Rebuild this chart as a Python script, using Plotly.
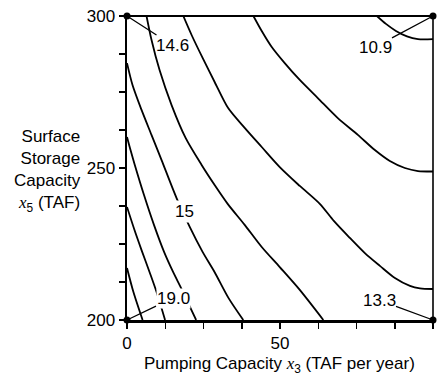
import plotly.graph_objects as go

# ---- data ----
x_tick_vals = [0, 12.5, 25, 37.5, 50, 62.5, 75, 87.5, 100]
x_tick_text = ["0", "", "", "", "50", "", "", "", "100"]
y_tick_vals = [200, 212.5, 225, 237.5, 250, 262.5, 275, 287.5, 300]
y_tick_text = ["200", "", "", "", "250", "", "", "", "300"]

corner_x = [0, 100, 0, 100]
corner_y = [300, 300, 200, 200]
corner_values = ["14.6", "10.9", "19.0", "13.3"]

c1_x = [0, 2.1, 5.1]
c1_y = [217.1, 209.2, 200]

c2_x = [0, 2.45, 4.75, 7.36, 9.66, 12.44]
c2_y = [237.2, 229.6, 223.0, 215.8, 209.2, 200]

c3_x = [0, 1.15, 2.55, 5.56, 8.84, 12.11, 15.06, 17.68, 20.3, 22.59]
c3_y = [260.2, 255.9, 251.0, 241.1, 231.2, 222.4, 215.8, 210.5, 204.9, 200]

c4_x = [0, 1.8, 4.75, 8.0, 11.3, 16.2, 20.5, 24.7, 28.6, 33.2, 38.0]
c4_y = [284.5, 277.3, 269.1, 260.9, 252.6, 240.1, 230.6, 222.4, 215.8, 207.2, 200]

c5_x = [6.38, 8.02, 10.64, 14.57, 19.15, 24.39, 28.64, 32.90, 38.46, 44.03, 49.92, 56.46, 64.16]
c5_y = [300, 292.1, 282.2, 270.7, 259.9, 251.0, 244.4, 238.2, 231.3, 224.0, 217.4, 209.9, 200]

c6_x = [18.40, 21.11, 24.71, 28.64, 33.06, 38.46, 44.03, 49.92, 56.46, 63.01, 67.59,
        72.83, 77.74, 82.65, 87.56, 92.47, 95.74, 100]
c6_y = [300, 293.75, 286.2, 278.3, 269.7, 263.2, 256.9, 250.3, 244.1, 238.2, 232.6,
        227.0, 222.0, 217.8, 213.8, 211.2, 210.4, 210.2]

c7_x = [41.31, 44.03, 47.3, 51.55, 56.46, 62.36, 68.9, 75.45, 81.0, 85.9, 90.8, 95.1, 100]
c7_y = [300, 295.07, 289.8, 284.5, 278.95, 273.0, 266.4, 260.9, 255.9, 252.3, 250.0, 249.0, 248.85]

c8_x = [81.67, 84.62, 87.89, 91.49, 95.09, 100]
c8_y = [300, 297.4, 295.1, 293.3, 292.4, 292.4]

contour_label = "15"

FONT = "Liberation Sans, Arial, sans-serif"
FS = 17

fig = go.Figure()
for cx, cy in [(c1_x, c1_y), (c2_x, c2_y), (c3_x, c3_y), (c4_x, c4_y),
               (c5_x, c5_y), (c6_x, c6_y), (c7_x, c7_y), (c8_x, c8_y)]:
    fig.add_trace(go.Scatter(x=cx, y=cy, mode="lines",
                             line=dict(color="black", width=1.8, shape="spline", smoothing=0.8),
                             hoverinfo="skip", showlegend=False))

fig.add_trace(go.Scatter(x=corner_x, y=corner_y, mode="markers",
                         marker=dict(color="black", size=7),
                         cliponaxis=False, hoverinfo="skip", showlegend=False))

annotations = []
# corner value labels with leader lines (pixel offsets to the label)
offsets = [(45, 29), (-58, 31), (46, -22), (-54, -20)]
for (cx, cy, txt, (ax, ay)) in zip(corner_x, corner_y, corner_values, offsets):
    annotations.append(dict(x=cx, y=cy, xref="x", yref="y", text=txt,
                            showarrow=True, arrowhead=0, arrowwidth=1.3, arrowcolor="black",
                            ax=ax, ay=ay, standoff=0,
                            bgcolor="white" if txt == "19.0" else "rgba(0,0,0,0)",
                            borderpad=0,
                            font=dict(family=FONT, size=FS, color="black")))
# label on contour
annotations.append(dict(x=18.9, y=235.6, xref="x", yref="y", text=contour_label,
                        showarrow=False, bgcolor="white", borderpad=1,
                        font=dict(family=FONT, size=FS, color="black")))
# axis titles
annotations.append(dict(x=0.497, y=-0.148, xref="paper", yref="paper",
                        xanchor="center", yanchor="middle", showarrow=False,
                        text="Pumping Capacity <span style='font-family:Liberation Serif'><i>x</i></span><sub>3</sub> (TAF per year)",
                        font=dict(family=FONT, size=FS, color="black")))
annotations.append(dict(x=-0.143, y=0.49, xref="paper", yref="paper",
                        xanchor="right", yanchor="middle", align="right", showarrow=False,
                        text="Surface<br>Storage<br>Capacity<br><span style='font-family:Liberation Serif'><i>x</i></span><sub>5</sub> (TAF)",
                        font=dict(family=FONT, size=FS, color="black")))

axis_common = dict(ticks="outside", ticklen=6, tickwidth=1.5, tickcolor="black",
                   showline=True, linewidth=2.5, linecolor="black",
                   showgrid=False, zeroline=False, automargin=False,
                   tickfont=dict(family=FONT, size=FS, color="black"))

fig.update_layout(
    width=444, height=379,
    margin=dict(l=127, r=11, t=16, b=59, autoexpand=False),
    paper_bgcolor="white", plot_bgcolor="white",
    xaxis=dict(range=[0, 100], tickvals=x_tick_vals, ticktext=x_tick_text, **axis_common),
    yaxis=dict(range=[200, 300], tickvals=y_tick_vals, ticktext=y_tick_text, **axis_common),
    annotations=annotations,
    shapes=[
        dict(type="line", xref="paper", yref="paper", x0=0, x1=1, y0=1, y1=1,
             line=dict(color="black", width=2.2)),
        dict(type="line", xref="paper", yref="paper", x0=1, x1=1, y0=0, y1=1,
             line=dict(color="black", width=1.6)),
    ],
    showlegend=False,
)

fig.write_html("out.html", config={"displayModeBar": False, "staticPlot": True},
               post_script="document.body.style.margin='0';document.body.style.padding='0';document.body.style.overflow='hidden';")
